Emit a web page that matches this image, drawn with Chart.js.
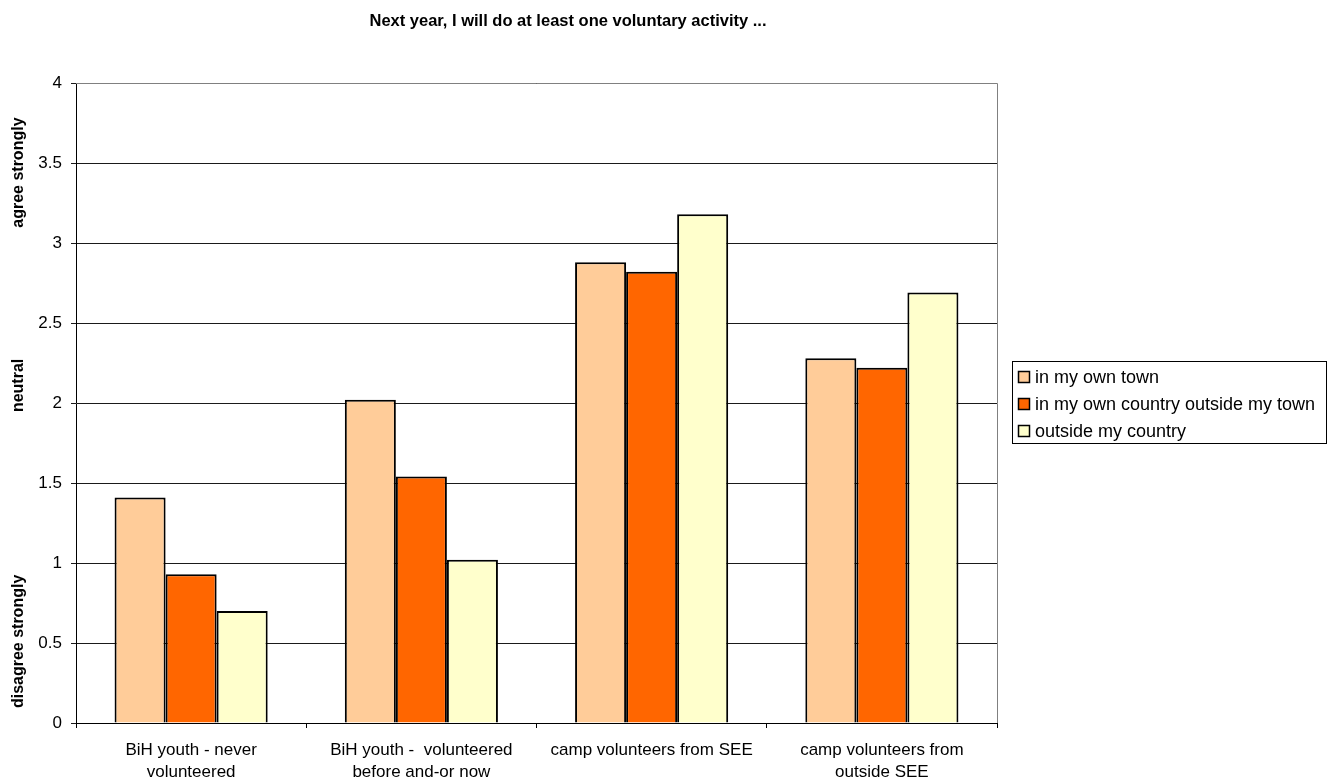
<!DOCTYPE html>
<html>
<head>
<meta charset="utf-8">
<script src="https://cdn.jsdelivr.net/npm/chart.js@4.4.1/dist/chart.umd.min.js"></script>
<style>
  html, body { margin: 0; padding: 0; background: #fff; }
  #wrap { width: 1340px; height: 784px; position: relative; }
</style>
</head>
<body>
<div id="wrap"><canvas id="chart" width="1340" height="784"></canvas></div>
<script>
const chartTitle = 'Next year, I will do at least one voluntary activity ...';
const categories = [
  ['BiH youth - never', 'volunteered'],
  ['BiH youth -  volunteered', 'before and-or now'],
  ['camp volunteers from SEE'],
  ['camp volunteers from', 'outside SEE']
];
const seriesNames = ['in my own town', 'in my own country outside my town', 'outside my country'];
const ownTown     = [1.41, 2.02, 2.88, 2.28];
const ownCountry  = [0.93, 1.54, 2.82, 2.22];
const abroad      = [0.70, 1.02, 3.18, 2.69];
const seriesColors = ['#FFCC99', '#FF6600', '#FFFFCC'];
const sideLabels = [
  { text: 'agree strongly',    at: 3.44 },
  { text: 'neutral',           at: 2.11 },
  { text: 'disagree strongly', at: 0.51 }
];

const FONT = '"Liberation Sans", Arial, sans-serif';

/* plot frame, title, side labels and boxed legend */
const extras = {
  id: 'extras',
  beforeDatasetsDraw(chart) {
    const { ctx, chartArea: a } = chart;
    ctx.save();
    ctx.strokeStyle = '#808080';
    ctx.lineWidth = 1;
    ctx.beginPath();
    ctx.moveTo(a.left, a.top + 0.5);
    ctx.lineTo(a.right + 0.5, a.top + 0.5);
    ctx.lineTo(a.right + 0.5, a.bottom);
    ctx.stroke();
    ctx.restore();
  },
  afterDraw(chart) {
    const { ctx } = chart;
    const y = chart.scales.y;
    ctx.save();
    ctx.fillStyle = '#000';
    ctx.textAlign = 'center';
    ctx.textBaseline = 'middle';
    ctx.font = 'bold 16.5px ' + FONT;
    ctx.fillText(chartTitle, 568, 21);

    ctx.font = 'bold 16px ' + FONT;
    sideLabels.forEach(l => {
      ctx.save();
      ctx.translate(19, y.getPixelForValue(l.at));
      ctx.rotate(-Math.PI / 2);
      ctx.fillText(l.text, 0, 0);
      ctx.restore();
    });

    // legend
    ctx.font = '18px ' + FONT;
    const ds = chart.data.datasets;
    const bx = 1012, by = 361, rowH = 27;
    let tw = 0;
    ds.forEach(d => tw = Math.max(tw, ctx.measureText(d.label).width));
    const bw = Math.round(tw + 34), bh = 82;
    ctx.strokeStyle = '#000';
    ctx.lineWidth = 1;
    ctx.strokeRect(bx + 0.5, by + 0.5, bw, bh);
    ctx.textAlign = 'left';
    ds.forEach((d, i) => {
      const cy = by + 16 + i * rowH;
      ctx.fillStyle = d.backgroundColor;
      ctx.fillRect(bx + 6, cy - 6, 12, 12);
      ctx.lineWidth = 1.5;
      ctx.strokeRect(bx + 6.5, cy - 5.5, 11, 11);
      ctx.fillStyle = '#000';
      ctx.fillText(d.label, bx + 23, cy + 1);
    });
    ctx.restore();
  }
};

const mkSet = (i, values) => ({
  label: seriesNames[i],
  data: values,
  backgroundColor: seriesColors[i],
  borderColor: '#000',
  borderWidth: 2,
  borderSkipped: 'bottom'
});

new Chart(document.getElementById('chart'), {
  type: 'bar',
  data: {
    labels: categories,
    datasets: [mkSet(0, ownTown), mkSet(1, ownCountry), mkSet(2, abroad)]
  },
  options: {
    responsive: false,
    animation: false,
    layout: { padding: { left: 0, top: 83, right: 343, bottom: 0 } },
    plugins: {
      legend: { display: false },
      title: { display: false },
      tooltip: { enabled: false }
    },
    datasets: { bar: { categoryPercentage: 0.665, barPercentage: 1 } },
    scales: {
      x: {
        afterFit: s => { s.height = 61; },
        grid: { offset: true, drawOnChartArea: false, drawTicks: true, tickLength: 5, color: '#000' },
        border: { color: '#000', width: 1 },
        ticks: { color: '#000', font: { family: FONT, size: 17, lineHeight: 1.3 }, padding: 11, maxRotation: 0, autoSkip: false }
      },
      y: {
        min: 0, max: 4,
        afterFit: s => { s.width = 76; },
        grid: { color: '#1a1a1a', lineWidth: 1, tickLength: 5 },
        border: { color: '#000', width: 1 },
        ticks: {
          stepSize: 0.5, color: '#000', font: { family: FONT, size: 17 }, padding: 9,
          callback: v => String(v)
        }
      }
    }
  },
  plugins: [extras]
});
</script>
</body>
</html>
